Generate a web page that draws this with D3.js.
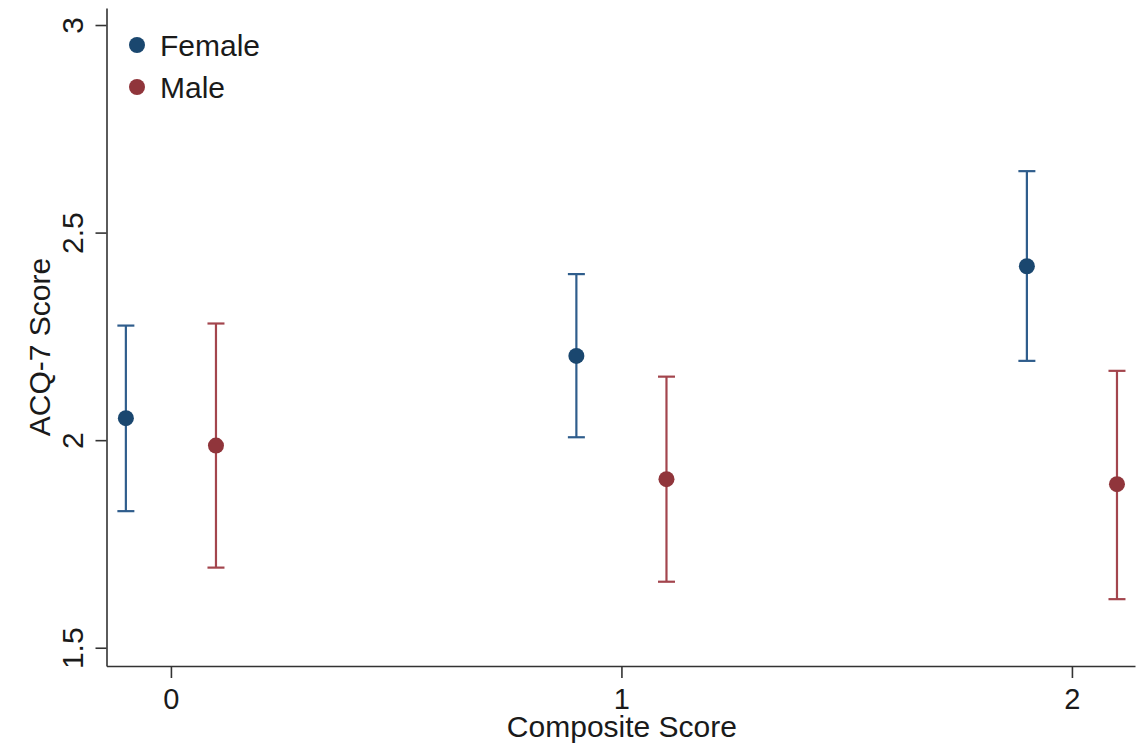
<!DOCTYPE html>
<html>
<head>
<meta charset="utf-8">
<script src="https://cdn.jsdelivr.net/npm/d3@7"></script>
<style>
  html, body { margin: 0; padding: 0; background: #fff; }
  svg { display: block; font-family: "Liberation Sans", Arial, sans-serif; }
</style>
</head>
<body>
<svg id="chart" width="1147" height="746"></svg>
<script>
// Composite score groups on the x axis
const categories = [0, 1, 2];
const xTickLabels = ["0", "1", "2"];
const yTickValues = [1.5, 2, 2.5, 3];
const yTickLabels = ["1.5", "2", "2.5", "3"];

// Mean ACQ-7 score with 95% confidence limits
const femaleMean  = [2.053, 2.203, 2.419];
const femaleLower = [1.829, 2.007, 2.191];
const femaleUpper = [2.276, 2.400, 2.648];

const maleMean  = [1.987, 1.906, 1.894];
const maleLower = [1.693, 1.659, 1.617];
const maleUpper = [2.281, 2.153, 2.167];

const seriesNames = ["Female", "Male"];

const svg = d3.select("#chart");
const plotLeft = 106.5, plotRight = 1135, plotTop = 8, plotBottom = 666;

const x = d3.scaleLinear().domain([-0.143, 2.14]).range([plotLeft, plotRight]);
const y = d3.scaleLinear().domain([1.456, 3.041]).range([plotBottom, plotTop]);

const axisColor = "#333";
const textColor = "#1a1a1a";
const fontSize = 30;

const series = [
  { name: seriesNames[0], mean: femaleMean, lo: femaleLower, hi: femaleUpper,
    offset: -0.1, dot: "#1a476f", bar: "#2f5d8c" },
  { name: seriesNames[1], mean: maleMean, lo: maleLower, hi: maleUpper,
    offset: 0.1, dot: "#90353b", bar: "#a3454d" }
];

// Error bars and markers
series.forEach(s => {
  const g = svg.append("g");
  const rows = categories.map((c, i) => ({ c, m: s.mean[i], lo: s.lo[i], hi: s.hi[i] }));
  const capHalf = 8.5;
  g.selectAll("line.stem").data(rows).join("line")
    .attr("class", "stem")
    .attr("x1", d => x(d.c + s.offset)).attr("x2", d => x(d.c + s.offset))
    .attr("y1", d => y(d.lo)).attr("y2", d => y(d.hi))
    .attr("stroke", s.bar).attr("stroke-width", 2.2);
  ["lo", "hi"].forEach(k => {
    g.selectAll("line.cap-" + k).data(rows).join("line")
      .attr("class", "cap-" + k)
      .attr("x1", d => x(d.c + s.offset) - capHalf).attr("x2", d => x(d.c + s.offset) + capHalf)
      .attr("y1", d => y(d[k])).attr("y2", d => y(d[k]))
      .attr("stroke", s.bar).attr("stroke-width", 2.2);
  });
  g.selectAll("circle").data(rows).join("circle")
    .attr("cx", d => x(d.c + s.offset)).attr("cy", d => y(d.m))
    .attr("r", 8).attr("fill", s.dot);
});

// Y axis with vertical tick labels
const yAxis = svg.append("g")
  .attr("transform", `translate(${plotLeft},0)`)
  .call(d3.axisLeft(y).tickValues(yTickValues)
    .tickFormat((d, i) => yTickLabels[i]).tickSize(11).tickSizeOuter(0));
yAxis.select(".domain").attr("stroke", axisColor).attr("stroke-width", 1.6);
yAxis.selectAll(".tick line").attr("stroke", axisColor).attr("stroke-width", 1.6);
yAxis.selectAll(".tick text")
  .attr("x", null).attr("dy", null)
  .attr("transform", "translate(-24,0) rotate(-90)")
  .attr("text-anchor", "middle")
  .attr("fill", textColor)
  .style("font-size", fontSize + "px")
  .style("font-family", "'Liberation Sans', Arial, sans-serif");

// X axis
const xAxis = svg.append("g")
  .attr("transform", `translate(0,${plotBottom})`)
  .call(d3.axisBottom(x).tickValues(categories)
    .tickFormat((d, i) => xTickLabels[i]).tickSize(12).tickSizeOuter(0));
xAxis.select(".domain").attr("stroke", axisColor).attr("stroke-width", 1.6);
xAxis.selectAll(".tick line").attr("stroke", axisColor).attr("stroke-width", 1.6);
xAxis.selectAll(".tick text")
  .attr("y", null).attr("dy", null)
  .attr("transform", "translate(0,43)")
  .attr("fill", textColor)
  .style("font-size", "29px")
  .style("font-family", "'Liberation Sans', Arial, sans-serif");

// Axis titles
svg.append("text")
  .attr("x", (x(0) + x(2)) / 2 + 0.5).attr("y", 737)
  .attr("text-anchor", "middle")
  .attr("fill", textColor).style("font-size", fontSize + "px")
  .text("Composite Score");

svg.append("text")
  .attr("transform", "translate(50,347) rotate(-90)")
  .attr("text-anchor", "middle")
  .attr("fill", textColor).style("font-size", fontSize + "px")
  .text("ACQ-7 Score");

// Legend
const legend = svg.append("g");
series.forEach((s, i) => {
  const ly = 45 + i * 42;
  legend.append("circle").attr("cx", 137).attr("cy", ly).attr("r", 8).attr("fill", s.dot);
  legend.append("text").attr("x", 160).attr("y", ly + 11)
    .attr("fill", textColor).style("font-size", fontSize + "px")
    .text(s.name);
});
</script>
</body>
</html>
